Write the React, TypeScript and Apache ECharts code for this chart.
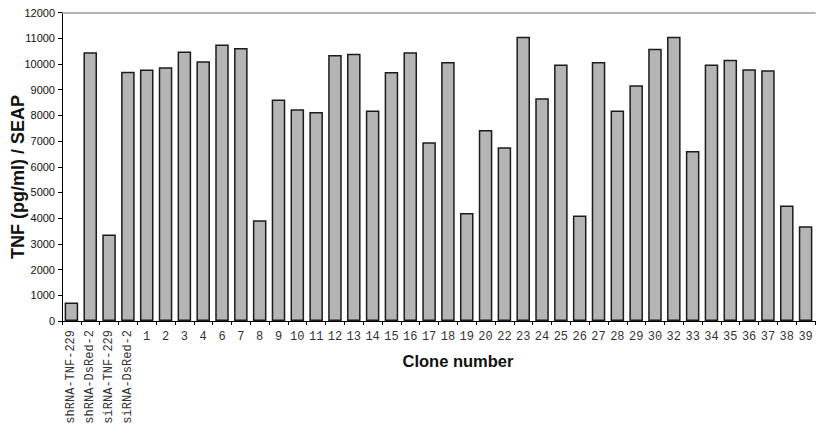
import React, { useEffect, useRef } from "react";
import * as echarts from "echarts";

const categories = [
  "shRNA-TNF-229", "shRNA-DsRed-2", "siRNA-TNF-229", "siRNA-DsRed-2",
  "1", "2", "3", "4", "6", "7", "8", "9", "10", "11", "12", "13", "14", "15", "16", "17",
  "18", "19", "20", "22", "23", "24", "25", "26", "27", "28", "29", "30", "32", "33", "34",
  "35", "36", "37", "38", "39",
];

const values = [
  720, 10450, 3360, 9700,
  9780, 9870, 10480, 10100, 10760, 10620, 3920, 8620, 8240, 8130, 10350, 10400, 8190, 9690, 10450, 6950,
  10070, 4200, 7430, 6760, 11060, 8660, 9980, 4100, 10070, 8190, 9170, 10590, 11060, 6610, 9980,
  10160, 9790, 9750, 4490, 3690,
];

const yTicks = { min: 0, max: 12000, interval: 1000 };

const isLong = (v: string) => isNaN(Number(v));

export default function App() {
  const ref = useRef<HTMLDivElement>(null);
  useEffect(() => {
    document.body.style.margin = "0";
    const chart = echarts.init(ref.current!, null, { renderer: "svg" });
    chart.setOption({
      animation: false,
      backgroundColor: "#ffffff",
      grid: { left: 62, right: 1, top: 12.5, bottom: 117, containLabel: false },
      xAxis: [
        {
          type: "category",
          data: categories,
          position: "bottom",
          boundaryGap: true,
          axisLine: { show: true, lineStyle: { color: "#000", width: 1 } },
          axisTick: { show: true, length: 4, lineStyle: { color: "#000" } },
          axisLabel: {
            interval: 0,
            rotate: 90,
            margin: 9,
            fontFamily: "Liberation Mono",
            fontSize: 12,
            color: "#333",
            formatter: (v: string) => (isLong(v) ? v : ""),
          },
        },
        {
          type: "category",
          data: categories,
          position: "bottom",
          offset: 0,
          boundaryGap: true,
          axisLine: { show: false },
          axisTick: { show: false },
          axisLabel: {
            interval: 0,
            rotate: 0,
            margin: 10,
            fontFamily: "Liberation Mono",
            fontSize: 12,
            color: "#333",
            formatter: (v: string) => (isLong(v) ? "" : v),
          },
        },
        {
          type: "category",
          data: categories,
          position: "top",
          axisLine: { show: true, lineStyle: { color: "#9a9a9a", width: 1.5 } },
          axisTick: { show: false },
          axisLabel: { show: false },
        },
      ],
      yAxis: {
        type: "value",
        min: yTicks.min,
        max: yTicks.max,
        interval: yTicks.interval,
        axisLine: { show: true, lineStyle: { color: "#000", width: 1 } },
        axisTick: { show: true, length: 4, lineStyle: { color: "#000" } },
        splitLine: { show: false },
        axisLabel: {
          margin: 7,
          fontFamily: "Liberation Sans",
          fontSize: 11,
          color: "#111",
          formatter: (v: number) => String(v),
        },
      },
      graphic: [
        {
          type: "text",
          x: 18,
          y: 177,
          rotation: Math.PI / 2,
          style: {
            text: "TNF (pg/ml) / SEAP",
            fontFamily: "Liberation Sans",
            fontWeight: "bold",
            fontSize: 18,
            fill: "#111",
            align: "center",
            verticalAlign: "middle",
          },
        },
        {
          type: "text",
          x: 458,
          y: 361,
          style: {
            text: "Clone number",
            fontFamily: "Liberation Sans",
            fontWeight: "bold",
            fontSize: 16.5,
            fill: "#111",
            align: "center",
            verticalAlign: "middle",
          },
        },
      ],
      series: [
        {
          type: "bar",
          xAxisIndex: 0,
          data: values,
          barCategoryGap: "28%",
          itemStyle: { color: "#b5b5b5", borderColor: "#1c1c1c", borderWidth: 1.5 },
        },
      ],
    });
    return () => chart.dispose();
  }, []);
  return <div ref={ref} style={{ width: 816, height: 438 }} />;
}
